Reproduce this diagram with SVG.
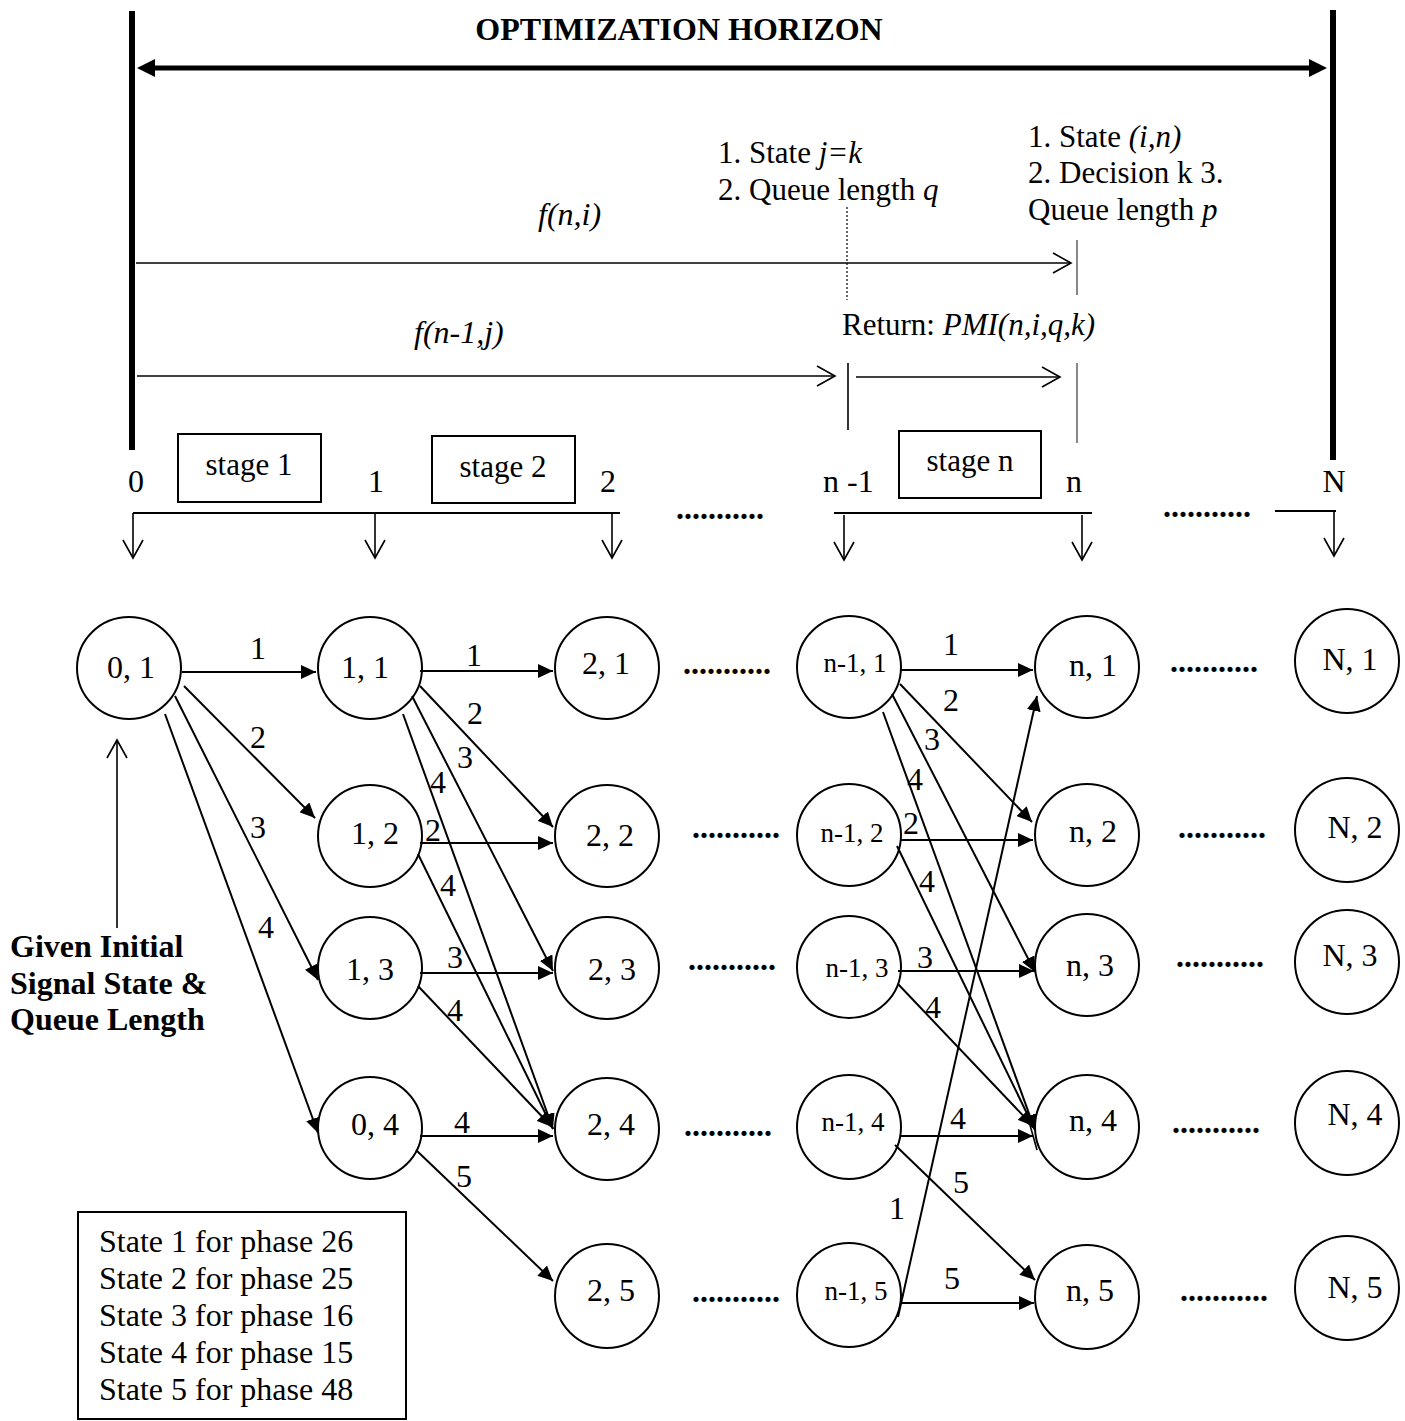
<svg xmlns="http://www.w3.org/2000/svg" width="1405" height="1421" viewBox="0 0 1405 1421">
  <style>
    .t { font-family: "Liberation Serif", "Times New Roman", serif; font-size: 32px; fill: #000; }
    .b { font-weight: bold; }
    .i { font-style: italic; }
    .m { text-anchor: middle; }
    .sm { font-size: 27px; }
    .md { font-size: 31px; }
    .node ellipse { fill: #fff; stroke: #000; stroke-width: 2; }
    .box { fill: #fff; stroke: #000; stroke-width: 2; }
    .edge { stroke: #000; stroke-width: 2; fill: none; marker-end: url(#tri); }
    .ray { stroke: #000; stroke-width: 1.6; fill: none; marker-end: url(#vee); }
    .rule { stroke: #000; stroke-width: 2.2; fill: none; }
    .pole { stroke: #000; stroke-width: 6; fill: none; }
    .tick { stroke: #000; stroke-width: 1.6; }
    .grey { stroke: #555; stroke-width: 1.4; }
  </style>
  <defs>
    <marker id="tri" markerUnits="userSpaceOnUse" markerWidth="16" markerHeight="14" refX="15" refY="7" orient="auto">
      <path d="M0,0 L15,7 L0,14 z" fill="#000"/>
    </marker>
    <marker id="vee" markerUnits="userSpaceOnUse" markerWidth="22" markerHeight="24" refX="18" refY="11" orient="auto" overflow="visible">
      <path d="M0,1 L18,11 L0,21" fill="none" stroke="#000" stroke-width="1.6"/>
    </marker>
    <marker id="big" markerUnits="userSpaceOnUse" markerWidth="20" markerHeight="20" refX="5" refY="9" orient="auto-start-reverse">
      <path d="M0,0 L18,9 L0,18 z" fill="#000"/>
    </marker>
  </defs>

  <rect width="1405" height="1421" fill="#fff"/>

  <!-- horizon frame -->
  <g id="horizon">
    <line class="pole" x1="132" y1="11" x2="132" y2="450"/>
    <line class="pole" x1="1333" y1="10" x2="1333" y2="460"/>
    <line x1="150" y1="68" x2="1314" y2="68" stroke="#000" stroke-width="5" marker-start="url(#big)" marker-end="url(#big)"/>
    <text class="t b m" x="679" y="40">OPTIMIZATION HORIZON</text>
  </g>

  <!-- recursion annotations -->
  <g id="recursion">
    <text class="t i" x="538" y="225">f(n,i)</text>
    <line class="ray" x1="136" y1="263" x2="1071" y2="263"/>
    <line class="grey" x1="1077" y1="240" x2="1077" y2="295"/>
    <text class="t i" x="414" y="343">f(n-1,j)</text>
    <line class="ray" x1="137" y1="376" x2="835" y2="376"/>
    <line class="tick" x1="848" y1="363" x2="848" y2="430"/>
    <line class="ray" x1="856" y1="377" x2="1060" y2="377"/>
    <line class="grey" x1="1077" y1="363" x2="1077" y2="443"/>
    <line x1="847" y1="207" x2="847" y2="300" stroke="#000" stroke-width="1.2" stroke-dasharray="2,2"/>
    <text class="t md" x="718" y="163">1. State <tspan class="i">j=k</tspan></text>
    <text class="t md" x="718" y="200">2. Queue length <tspan class="i">q</tspan></text>
    <text class="t md" x="1028" y="147">1. State <tspan class="i">(i,n)</tspan></text>
    <text class="t md" x="1028" y="183">2. Decision k 3.</text>
    <text class="t md" x="1028" y="220">Queue length <tspan class="i">p</tspan></text>
    <text class="t md" x="842" y="335">Return: <tspan class="i">PMI(n,i,q,k)</tspan></text>
  </g>

  <!-- stage axis -->
  <g id="axis">
    <rect class="box" x="178" y="434" width="143" height="68"/>
    <text class="t md m" x="249" y="475">stage 1</text>
    <rect class="box" x="432" y="436" width="143" height="67"/>
    <text class="t md m" x="503" y="477">stage 2</text>
    <rect class="box" x="899" y="431" width="142" height="67"/>
    <text class="t md m" x="970" y="471">stage n</text>
    <text class="t m" x="136" y="492">0</text>
    <text class="t m" x="376" y="492">1</text>
    <text class="t m" x="608" y="492">2</text>
    <text class="t" x="823" y="492">n -1</text>
    <text class="t m" x="1074" y="492">n</text>
    <text class="t m" x="1334" y="492">N</text>
    <line class="rule" x1="133" y1="513" x2="620" y2="513"/>
    <line class="rule" x1="834" y1="513" x2="1092" y2="513"/>
    <line class="rule" x1="1275" y1="511" x2="1336" y2="511"/>
    <line class="ray" x1="133" y1="513" x2="133" y2="558"/>
    <line class="ray" x1="375" y1="513" x2="375" y2="558"/>
    <line class="ray" x1="612" y1="513" x2="612" y2="558"/>
    <line class="ray" x1="844" y1="515" x2="844" y2="560"/>
    <line class="ray" x1="1082" y1="515" x2="1082" y2="560"/>
    <line class="ray" x1="1334" y1="511" x2="1334" y2="556"/>
    <text class="t b" x="676" y="519">...........</text>
    <text class="t b" x="1163" y="517">...........</text>
  </g>

  <!-- state nodes -->
  <g id="n0_1" class="node"><ellipse cx="129" cy="668" rx="52" ry="51"/><text class="t m" x="131" y="678">0, 1</text></g>

  <g id="n1_1" class="node"><ellipse cx="370" cy="668" rx="52" ry="51"/><text class="t m" x="365" y="678">1, 1</text></g>
  <g id="n1_2" class="node"><ellipse cx="370" cy="836" rx="52" ry="51"/><text class="t m" x="375" y="844">1, 2</text></g>
  <g id="n1_3" class="node"><ellipse cx="370" cy="968" rx="52" ry="51"/><text class="t m" x="370" y="980">1, 3</text></g>
  <g id="n1_4" class="node"><ellipse cx="370" cy="1128" rx="52" ry="51"/><text class="t m" x="375" y="1135">0, 4</text></g>

  <g id="n2_1" class="node"><ellipse cx="607" cy="668" rx="52" ry="51"/><text class="t m" x="606" y="674">2, 1</text></g>
  <g id="n2_2" class="node"><ellipse cx="607" cy="836" rx="52" ry="51"/><text class="t m" x="610" y="846">2, 2</text></g>
  <g id="n2_3" class="node"><ellipse cx="607" cy="968" rx="52" ry="51"/><text class="t m" x="612" y="980">2, 3</text></g>
  <g id="n2_4" class="node"><ellipse cx="607" cy="1129" rx="52" ry="51"/><text class="t m" x="611" y="1135">2, 4</text></g>
  <g id="n2_5" class="node"><ellipse cx="607" cy="1296" rx="52" ry="52"/><text class="t m" x="611" y="1301">2, 5</text></g>

  <g id="nm_1" class="node"><ellipse cx="849" cy="667" rx="52" ry="51"/><text class="t sm m" x="855" y="672">n-1, 1</text></g>
  <g id="nm_2" class="node"><ellipse cx="849" cy="835" rx="52" ry="51"/><text class="t sm m" x="852" y="842">n-1, 2</text></g>
  <g id="nm_3" class="node"><ellipse cx="849" cy="967" rx="52" ry="51"/><text class="t sm m" x="857" y="977">n-1, 3</text></g>
  <g id="nm_4" class="node"><ellipse cx="849" cy="1127" rx="52" ry="52"/><text class="t sm m" x="853" y="1131">n-1, 4</text></g>
  <g id="nm_5" class="node"><ellipse cx="849" cy="1295" rx="52" ry="52"/><text class="t sm m" x="856" y="1300">n-1, 5</text></g>

  <g id="nn_1" class="node"><ellipse cx="1087" cy="667" rx="52" ry="51"/><text class="t m" x="1093" y="676">n, 1</text></g>
  <g id="nn_2" class="node"><ellipse cx="1087" cy="835" rx="52" ry="51"/><text class="t m" x="1093" y="842">n, 2</text></g>
  <g id="nn_3" class="node"><ellipse cx="1087" cy="965" rx="52" ry="51"/><text class="t m" x="1090" y="976">n, 3</text></g>
  <g id="nn_4" class="node"><ellipse cx="1087" cy="1127" rx="52" ry="52"/><text class="t m" x="1093" y="1131">n, 4</text></g>
  <g id="nn_5" class="node"><ellipse cx="1087" cy="1297" rx="52" ry="52"/><text class="t m" x="1090" y="1301">n, 5</text></g>

  <g id="nN_1" class="node"><ellipse cx="1347" cy="661" rx="52" ry="52"/><text class="t m" x="1350" y="670">N, 1</text></g>
  <g id="nN_2" class="node"><ellipse cx="1347" cy="830" rx="52" ry="52"/><text class="t m" x="1355" y="838">N, 2</text></g>
  <g id="nN_3" class="node"><ellipse cx="1347" cy="962" rx="52" ry="52"/><text class="t m" x="1350" y="966">N, 3</text></g>
  <g id="nN_4" class="node"><ellipse cx="1347" cy="1123" rx="52" ry="52"/><text class="t m" x="1355" y="1125">N, 4</text></g>
  <g id="nN_5" class="node"><ellipse cx="1347" cy="1288" rx="52" ry="52"/><text class="t m" x="1355" y="1298">N, 5</text></g>

  <!-- elided stages between columns -->
  <g id="ellipses" class="t b">
    <text x="683" y="674">...........</text>
    <text x="1170" y="672">...........</text>
    <text x="692" y="838">...........</text>
    <text x="1178" y="838">...........</text>
    <text x="688" y="970">...........</text>
    <text x="1176" y="967">...........</text>
    <text x="684" y="1136">...........</text>
    <text x="1172" y="1133">...........</text>
    <text x="692" y="1302">...........</text>
    <text x="1180" y="1301">...........</text>
  </g>

  <!-- transitions -->
  <g id="connectors">
    <line class="edge" x1="182" y1="672" x2="316" y2="672"/>
    <line class="edge" x1="184" y1="686" x2="315" y2="818"/>
    <line class="edge" x1="175" y1="696" x2="318" y2="980"/>
    <line class="edge" x1="165" y1="714" x2="318" y2="1133"/>

    <line class="edge" x1="420" y1="671" x2="553" y2="671"/>
    <line class="edge" x1="420" y1="686" x2="553" y2="827"/>
    <line class="edge" x1="412" y1="696" x2="553" y2="971"/>
    <line class="edge" x1="403" y1="714" x2="553" y2="1129"/>
    <line class="edge" x1="420" y1="843" x2="553" y2="843"/>
    <line class="edge" x1="418" y1="854" x2="553" y2="1129"/>
    <line class="edge" x1="420" y1="973" x2="553" y2="973"/>
    <line class="edge" x1="418" y1="986" x2="552" y2="1127"/>
    <line class="edge" x1="420" y1="1136" x2="553" y2="1136"/>
    <line class="edge" x1="416" y1="1150" x2="553" y2="1281"/>

    <line class="edge" x1="900" y1="670" x2="1033" y2="670"/>
    <line class="edge" x1="900" y1="684" x2="1032" y2="822"/>
    <line class="edge" x1="892" y1="694" x2="1035" y2="972"/>
    <line class="edge" x1="883" y1="712" x2="1035" y2="1130"/>
    <line class="tick" x1="1030" y1="1125" x2="1037" y2="1150"/>
    <line class="edge" x1="900" y1="840" x2="1033" y2="840"/>
    <line class="edge" x1="897" y1="846" x2="1035" y2="1130"/>
    <line class="edge" x1="898" y1="971" x2="1034" y2="971"/>
    <line class="edge" x1="898" y1="984" x2="1033" y2="1126"/>
    <line class="edge" x1="900" y1="1136" x2="1033" y2="1136"/>
    <line class="edge" x1="895" y1="1145" x2="1035" y2="1280"/>
    <line class="edge" x1="900" y1="1303" x2="1034" y2="1303"/>
    <line class="edge" x1="898" y1="1317" x2="1037" y2="696"/>

    <line class="ray" x1="117" y1="928" x2="117" y2="740"/>
  </g>

  <!-- transition labels -->
  <g id="edge-labels" class="t m">
    <text x="258" y="659">1</text>
    <text x="258" y="748">2</text>
    <text x="258" y="838">3</text>
    <text x="266" y="938">4</text>
    <text x="474" y="666">1</text>
    <text x="475" y="724">2</text>
    <text x="465" y="768">3</text>
    <text x="438" y="793">4</text>
    <text x="433" y="841">2</text>
    <text x="448" y="896">4</text>
    <text x="455" y="968">3</text>
    <text x="455" y="1021">4</text>
    <text x="462" y="1133">4</text>
    <text x="464" y="1187">5</text>
    <text x="951" y="655">1</text>
    <text x="951" y="711">2</text>
    <text x="932" y="750">3</text>
    <text x="915" y="790">4</text>
    <text x="911" y="834">2</text>
    <text x="927" y="892">4</text>
    <text x="925" y="968">3</text>
    <text x="933" y="1018">4</text>
    <text x="958" y="1129">4</text>
    <text x="961" y="1193">5</text>
    <text x="952" y="1289">5</text>
    <text x="897" y="1219">1</text>
  </g>

  <!-- starting condition note -->
  <g id="initial" class="t b">
    <text x="10" y="957">Given Initial</text>
    <text x="10" y="994">Signal State &amp;</text>
    <text x="10" y="1030">Queue Length</text>
  </g>

  <!-- state legend -->
  <g id="legend">
    <rect x="78" y="1212" width="328" height="207" fill="#fff" stroke="#000" stroke-width="2"/>
    <text class="t" x="99" y="1252">State 1 for phase 26</text>
    <text class="t" x="99" y="1289">State 2 for phase 25</text>
    <text class="t" x="99" y="1326">State 3 for phase 16</text>
    <text class="t" x="99" y="1363">State 4 for phase 15</text>
    <text class="t" x="99" y="1400">State 5 for phase 48</text>
  </g>
</svg>
